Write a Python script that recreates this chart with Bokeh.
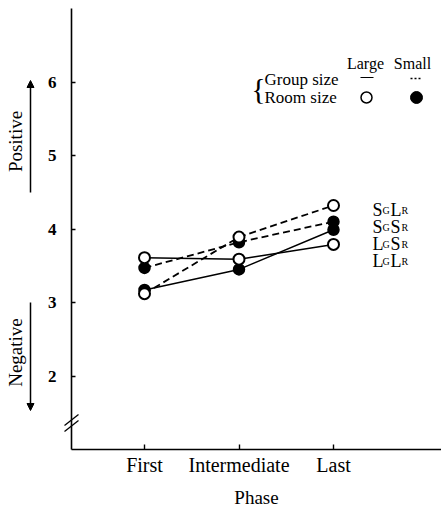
from bokeh.plotting import figure
from bokeh.models import Range1d, FixedTicker, Label, Arrow, NormalHead
from bokeh.embed import file_html
from bokeh.resources import INLINE

# ---- data ----
phases = ["First", "Intermediate", "Last"]
phase_x = [1, 2, 3]
sglr = [3.12, 3.89, 4.32]   # small group, large room  (dashed, open)
sgsr = [3.47, 3.82, 4.10]   # small group, small room  (dashed, filled)
lgsr = [3.17, 3.45, 3.99]   # large group, small room  (solid, filled)
lglr = [3.61, 3.59, 3.79]   # large group, large room  (solid, open)
y_ticks = [2, 3, 4, 5, 6]
y_lo, y_hi = 1, 7
series_labels = [("S", "G", "L", "R"), ("S", "G", "S", "R"), ("L", "G", "S", "R"), ("L", "G", "L", "R")]

SERIF = "Liberation Serif"

# pixel -> data helpers for annotation placement (axes corner at px 71 / 449)
X0, XS = 0.2275, 94.5
YS = 73.5
def X(px):
    return X0 + (px - 71) / XS
def Y(py):
    return y_hi - (py - 8) / YS

W, H = 441, 508
p = figure(width=W, height=H, x_range=Range1d(X(0), X(W)), y_range=Range1d(Y(H), Y(0)),
           output_backend="svg", toolbar_location=None,
           min_border_left=0, min_border_right=0, min_border_top=0, min_border_bottom=0)
p.outline_line_color = None
p.xgrid.visible = False
p.ygrid.visible = False
p.background_fill_color = "white"
p.border_fill_color = "white"

# axes (placed at fixed locations inside the frame)
xa = p.xaxis[0]
xa.fixed_location = y_lo
xa.bounds = (X(71), X(W))
xa.ticker = FixedTicker(ticks=phase_x)
xa.major_label_overrides = {i: s for i, s in zip(phase_x, phases)}
xa.major_tick_in = 5
xa.major_tick_out = 0
xa.minor_tick_line_color = None
xa.axis_line_width = 1.6
xa.major_tick_line_width = 1.4
xa.major_label_text_font = SERIF
xa.major_label_text_font_size = "20px"
xa.major_label_text_color = "black"
xa.major_label_standoff = 4
xa.axis_label = "Phase"
xa.axis_label_text_font = SERIF
xa.axis_label_text_font_style = "normal"
xa.axis_label_text_font_size = "19px"
xa.axis_label_text_color = "black"
xa.axis_label_standoff = 8

ya = p.yaxis[0]
ya.fixed_location = X(71)
ya.bounds = (y_lo, y_hi)
ya.ticker = FixedTicker(ticks=y_ticks)
ya.major_tick_in = 4
ya.major_tick_out = 0
ya.minor_tick_line_color = None
ya.axis_line_width = 1.6
ya.major_tick_line_width = 1.4
ya.major_label_text_font = SERIF
ya.major_label_text_font_style = "bold"
ya.major_label_text_font_size = "17px"
ya.major_label_text_color = "black"
ya.major_label_standoff = 15

# series lines
p.line(phase_x, sglr, line_color="black", line_width=1.8, line_dash="7 4")
p.line(phase_x, sgsr, line_color="black", line_width=1.8, line_dash="7 4")
p.line(phase_x, lgsr, line_color="black", line_width=1.5)
p.line(phase_x, lglr, line_color="black", line_width=1.5)

# markers: filled first, open on top
for ys in (lgsr, sgsr):
    p.scatter(phase_x, ys, size=11, marker="circle", fill_color="black", line_color="black", line_width=1.5)
for ys in (sglr, lglr):
    p.scatter(phase_x, ys, size=11, marker="circle", fill_color="white", line_color="black", line_width=2)

def lab(x, y, text, size, align="left", baseline="middle", angle=0.0):
    p.add_layout(Label(x=x, y=y, text=text, text_font=SERIF, text_font_size=size,
                       text_align=align, text_baseline=baseline, text_color="black", angle=angle))

# series labels with subscripts
row_h = 17 / YS
base_top = Y(209)
for i, (a, b, c, d) in enumerate(series_labels):
    yb = base_top - i * row_h
    ys = yb - 1 / YS
    lab(X(372), yb, a, "18px", baseline="alphabetic")
    lab(X(382), ys, b, "10px", baseline="alphabetic")
    lab(X(390), yb, c, "18px", baseline="alphabetic")
    lab(X(401), ys, d, "10px", baseline="alphabetic")

# legend block
for txt, px in (("Large", 365), ("Small", 412)):
    lab(X(px), Y(63), txt, "16px", align="center")
for txt, py in (("Group size", 79), ("Room size", 97)):
    lab(X(264), Y(py), txt, "17px")
lab(X(258), Y(88), "{", "30px", align="center")
p.segment(x0=[X(360)], y0=[Y(77)], x1=[X(373)], y1=[Y(77)], line_color="black", line_width=1.2)
p.segment(x0=[X(410)], y0=[Y(78)], x1=[X(421)], y1=[Y(78)], line_color="black", line_width=1.5, line_dash="2 2")
p.scatter([X(366)], [Y(97)], size=11, marker="circle", fill_color="white", line_color="black", line_width=1.5)
p.scatter([X(416)], [Y(97)], size=12, marker="circle", fill_color="black", line_color="black")

# Positive / Negative annotations with arrows
lab(X(15), Y(141), "Positive", "19px", align="center", angle=1.5708)
lab(X(15), Y(352), "Negative", "19px", align="center", angle=1.5708)
p.add_layout(Arrow(end=NormalHead(size=7, fill_color="black", line_color="black"),
                   x_start=X(30), y_start=Y(192), x_end=X(30), y_end=Y(80),
                   line_color="black", line_width=1.5))
p.add_layout(Arrow(end=NormalHead(size=7, fill_color="black", line_color="black"),
                   x_start=X(30), y_start=Y(302), x_end=X(30), y_end=Y(410),
                   line_color="black", line_width=1.5))

# axis break marks
for dy in (0, 6):
    p.add_layout(Arrow(end=None, x_start=X(64), y_start=Y(431 - dy), x_end=X(78), y_end=Y(420 - dy),
                       line_color="black", line_width=1.3))

open("out.html", "w").write(file_html(p, INLINE))
